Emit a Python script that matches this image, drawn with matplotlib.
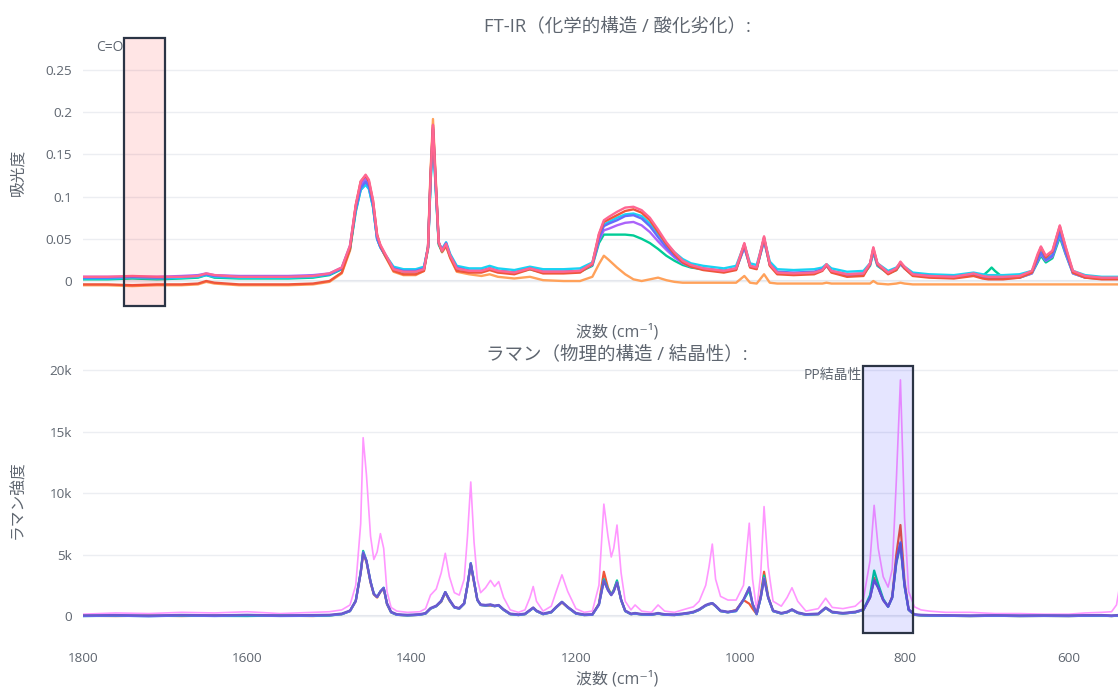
import matplotlib
matplotlib.use("Agg")
import matplotlib.pyplot as plt

plt.rcParams['font.family'] = ['Open Sans', 'Noto Sans CJK JP', 'DejaVu Sans']

# ---- FT-IR data (wavenumber, absorbance) ----
ir_x = [1800, 1770, 1740, 1710, 1680, 1660, 1650, 1640, 1610, 1580,
        1550, 1520, 1500, 1485, 1475, 1468, 1462, 1456, 1452, 1447,
        1442, 1438, 1432, 1422, 1410, 1395, 1385, 1380, 1377, 1374,
        1371, 1367, 1363, 1358, 1353, 1345, 1330, 1315, 1305, 1295,
        1275, 1256, 1240, 1215, 1195, 1180, 1172, 1166, 1160, 1150,
        1140, 1130, 1120, 1110, 1100, 1090, 1080, 1070, 1060, 1045,
        1020, 1005, 995, 988, 980, 971, 964, 955, 935, 910,
        900, 895, 889, 870, 850, 842, 838, 833, 820, 810,
        805, 800, 790, 770, 740, 716, 705, 698, 694, 690,
        680, 660, 645, 638, 634, 628, 620, 611, 604, 595,
        580, 560, 530, 500]

ir_blue = [0.004, 0.004, 0.005, 0.004, 0.005, 0.006, 0.008, 0.006, 0.005, 0.005,
           0.005, 0.006, 0.008, 0.015, 0.04, 0.085, 0.11, 0.118, 0.112, 0.09,
           0.05, 0.04, 0.03, 0.015, 0.012, 0.012, 0.015, 0.04, 0.12, 0.18,
           0.12, 0.045, 0.037, 0.045, 0.03, 0.016, 0.012, 0.012, 0.015, 0.012,
           0.01, 0.015, 0.011, 0.011, 0.012, 0.02, 0.05, 0.065, 0.068, 0.072,
           0.077, 0.078, 0.074, 0.065, 0.052, 0.04, 0.03, 0.022, 0.018, 0.015,
           0.012, 0.015, 0.042, 0.018, 0.016, 0.05, 0.02, 0.011, 0.01, 0.011,
           0.014, 0.019, 0.012, 0.008, 0.009, 0.02, 0.036, 0.02, 0.01, 0.015,
           0.021, 0.016, 0.008, 0.006, 0.005, 0.008, 0.005, 0.004, 0.004, 0.004,
           0.004, 0.005, 0.01, 0.025, 0.034, 0.025, 0.03, 0.058, 0.035, 0.01,
           0.005, 0.003, 0.003, 0.003]

ir_red = [-0.004, -0.004, -0.005, -0.004, -0.004, -0.003, 0.0, -0.002, -0.004, -0.004,
          -0.004, -0.003, 0.0, 0.01, 0.038, 0.09, 0.118, 0.125, 0.118, 0.095,
          0.055, 0.042, 0.03, 0.012, 0.008, 0.008, 0.012, 0.04, 0.125, 0.185,
          0.125, 0.045, 0.035, 0.042, 0.028, 0.012, 0.01, 0.01, 0.013, 0.01,
          0.008, 0.014, 0.009, 0.009, 0.01, 0.02, 0.055, 0.07, 0.073, 0.078,
          0.083, 0.085, 0.081, 0.072, 0.058, 0.044, 0.032, 0.022, 0.017, 0.013,
          0.01, 0.013, 0.044, 0.016, 0.014, 0.052, 0.018, 0.008, 0.007, 0.008,
          0.012, 0.019, 0.01, 0.005, 0.006, 0.02, 0.039, 0.02, 0.008, 0.013,
          0.022, 0.015, 0.006, 0.004, 0.003, 0.006, 0.003, 0.002, 0.002, 0.002,
          0.002, 0.004, 0.01, 0.03, 0.04, 0.028, 0.035, 0.065, 0.04, 0.01,
          0.004, 0.002, 0.002, 0.002]

ir_green = [0.002, 0.002, 0.003, 0.002, 0.003, 0.004, 0.007, 0.004, 0.003, 0.003,
            0.003, 0.004, 0.007, 0.014, 0.038, 0.082, 0.108, 0.115, 0.11, 0.088,
            0.05, 0.04, 0.03, 0.014, 0.011, 0.011, 0.014, 0.038, 0.115, 0.175,
            0.115, 0.043, 0.035, 0.043, 0.029, 0.015, 0.012, 0.012, 0.014, 0.012,
            0.01, 0.014, 0.01, 0.01, 0.011, 0.018, 0.045, 0.055, 0.055, 0.055,
            0.055, 0.054, 0.05, 0.045, 0.038, 0.03, 0.024, 0.019, 0.016, 0.014,
            0.012, 0.014, 0.04, 0.017, 0.015, 0.048, 0.019, 0.01, 0.009, 0.01,
            0.013, 0.018, 0.011, 0.007, 0.008, 0.018, 0.034, 0.018, 0.009, 0.013,
            0.02, 0.015, 0.007, 0.005, 0.004, 0.007, 0.006, 0.012, 0.016, 0.012,
            0.004, 0.004, 0.009, 0.022, 0.03, 0.022, 0.027, 0.052, 0.032, 0.009,
            0.004, 0.003, 0.003, 0.003]

ir_purple = [0.005, 0.005, 0.005, 0.005, 0.006, 0.007, 0.009, 0.007, 0.006, 0.006,
             0.006, 0.007, 0.009, 0.016, 0.042, 0.088, 0.114, 0.122, 0.116, 0.092,
             0.052, 0.041, 0.031, 0.015, 0.012, 0.012, 0.015, 0.04, 0.12, 0.182,
             0.122, 0.046, 0.036, 0.044, 0.03, 0.016, 0.012, 0.012, 0.015, 0.012,
             0.01, 0.015, 0.011, 0.011, 0.012, 0.019, 0.048, 0.06, 0.062, 0.066,
             0.069, 0.07, 0.066, 0.058, 0.047, 0.037, 0.028, 0.021, 0.017, 0.014,
             0.011, 0.014, 0.04, 0.017, 0.015, 0.048, 0.019, 0.01, 0.009, 0.01,
             0.013, 0.018, 0.011, 0.007, 0.008, 0.019, 0.035, 0.019, 0.009, 0.014,
             0.02, 0.015, 0.007, 0.005, 0.004, 0.007, 0.004, 0.003, 0.003, 0.003,
             0.003, 0.004, 0.009, 0.024, 0.032, 0.024, 0.029, 0.055, 0.033, 0.009,
             0.004, 0.003, 0.003, 0.003]

ir_orange = [-0.005, -0.005, -0.006, -0.005, -0.005, -0.004, -0.001, -0.003, -0.005, -0.005,
             -0.005, -0.004, -0.001, 0.009, 0.036, 0.088, 0.115, 0.122, 0.115, 0.092,
             0.053, 0.041, 0.029, 0.011, 0.007, 0.007, 0.012, 0.042, 0.13, 0.192,
             0.13, 0.046, 0.034, 0.041, 0.027, 0.011, 0.008, 0.006, 0.008, 0.005,
             0.003, 0.005, 0.001, 0.0, 0.0, 0.005, 0.02, 0.03, 0.025, 0.016,
             0.008, 0.002, 0.0, 0.002, 0.004, 0.001, -0.001, -0.002, -0.002, -0.002,
             -0.002, -0.002, 0.006, -0.002, -0.003, 0.008, -0.002, -0.003, -0.003, -0.003,
             -0.003, -0.002, -0.003, -0.003, -0.003, -0.003, 0.0, -0.003, -0.004, -0.003,
             -0.002, -0.003, -0.004, -0.004, -0.004, -0.004, -0.004, -0.004, -0.004, -0.004,
             -0.004, -0.004, -0.004, -0.004, -0.004, -0.004, -0.004, -0.004, -0.004, -0.004,
             -0.004, -0.004, -0.004, -0.004]

ir_cyan = [0.003, 0.003, 0.004, 0.003, 0.004, 0.005, 0.007, 0.005, 0.004, 0.004,
           0.004, 0.005, 0.008, 0.015, 0.04, 0.084, 0.108, 0.114, 0.109, 0.088,
           0.05, 0.04, 0.031, 0.017, 0.014, 0.014, 0.017, 0.04, 0.115, 0.175,
           0.115, 0.045, 0.038, 0.046, 0.032, 0.018, 0.015, 0.015, 0.018, 0.015,
           0.013, 0.017, 0.014, 0.014, 0.015, 0.022, 0.052, 0.067, 0.07, 0.075,
           0.079, 0.08, 0.077, 0.068, 0.056, 0.044, 0.034, 0.026, 0.021, 0.018,
           0.015, 0.018, 0.043, 0.021, 0.019, 0.05, 0.023, 0.014, 0.013, 0.014,
           0.016, 0.02, 0.015, 0.011, 0.012, 0.021, 0.036, 0.021, 0.012, 0.016,
           0.021, 0.017, 0.01, 0.008, 0.007, 0.01, 0.008, 0.007, 0.007, 0.007,
           0.007, 0.008, 0.012, 0.026, 0.034, 0.026, 0.031, 0.056, 0.036, 0.012,
           0.007, 0.005, 0.005, 0.005]

ir_pink = [0.005, 0.005, 0.006, 0.005, 0.005, 0.006, 0.009, 0.007, 0.005, 0.005,
           0.005, 0.006, 0.009, 0.016, 0.042, 0.09, 0.118, 0.126, 0.12, 0.096,
           0.054, 0.043, 0.032, 0.014, 0.011, 0.011, 0.014, 0.04, 0.122, 0.185,
           0.122, 0.046, 0.036, 0.044, 0.03, 0.015, 0.012, 0.012, 0.015, 0.012,
           0.01, 0.015, 0.011, 0.011, 0.012, 0.021, 0.056, 0.072, 0.076, 0.082,
           0.087, 0.088, 0.084, 0.075, 0.061, 0.046, 0.034, 0.024, 0.019, 0.015,
           0.012, 0.015, 0.045, 0.018, 0.016, 0.053, 0.02, 0.01, 0.009, 0.01,
           0.013, 0.02, 0.012, 0.008, 0.009, 0.021, 0.04, 0.021, 0.01, 0.015,
           0.023, 0.017, 0.008, 0.006, 0.005, 0.009, 0.006, 0.005, 0.005, 0.005,
           0.005, 0.006, 0.012, 0.032, 0.041, 0.03, 0.036, 0.066, 0.041, 0.012,
           0.006, 0.004, 0.004, 0.004]

ir_series = [(ir_orange, '#FFA15A'), (ir_green, '#00CC96'), (ir_purple, '#AB63FA'),
             (ir_cyan, '#19D3F3'), (ir_blue, '#636EFA'), (ir_red, '#EF553B'),
             (ir_pink, '#FF6692')]

# ---- Raman data (wavenumber, intensity) ----
ra_x = [1800, 1760, 1720, 1680, 1640, 1600, 1560, 1520, 1500, 1485,
        1475, 1468, 1462, 1459, 1455, 1450, 1446, 1442, 1438, 1434,
        1430, 1425, 1418, 1405, 1390, 1383, 1377, 1370, 1364, 1359,
        1354, 1348, 1342, 1336, 1332, 1328, 1324, 1320, 1316, 1310,
        1304, 1299, 1294, 1288, 1280, 1270, 1262, 1256, 1252, 1248,
        1240, 1230, 1224, 1217, 1210, 1200, 1190, 1180, 1172, 1166,
        1161, 1157, 1154, 1150, 1145, 1140, 1133, 1128, 1120, 1108,
        1100, 1092, 1080, 1065, 1057, 1050, 1042, 1038, 1034, 1030,
        1024, 1015, 1005, 996, 989, 985, 980, 975, 971, 966,
        960, 950, 943, 937, 930, 920, 905, 896, 888, 875,
        860, 850, 842, 837, 832, 826, 820, 815, 810, 805,
        800, 795, 788, 780, 770, 750, 720, 690, 660, 630,
        600, 580, 560, 548, 542, 538, 530, 515, 500]

ra_pink = [150, 250, 200, 300, 250, 350, 200, 300, 350, 500,
           900, 2500, 7500, 14500, 11500, 6500, 4600, 5200, 6700, 5500,
           2000, 700, 400, 300, 350, 600, 1700, 2200, 3500, 5100,
           3200, 1900, 1700, 3000, 6500, 10900, 6000, 3000, 1900, 2300,
           2900, 2400, 2800, 1500, 500, 300, 500, 1500, 2400, 1200,
           400, 800, 2000, 3350, 2000, 600, 300, 400, 2500, 9100,
           6500, 4800, 5500, 7400, 3500, 1200, 500, 900, 400, 300,
           900, 400, 300, 600, 750, 1200, 2500, 4000, 5850, 3000,
           1600, 1300, 1300, 2500, 7550, 3000, 500, 3500, 8900, 4000,
           1200, 800, 1500, 2300, 1200, 400, 600, 1450, 700, 600,
           800, 1400, 4500, 9000, 5500, 3200, 2350, 3800, 11000, 19200,
           8000, 2000, 750, 500, 400, 300, 300, 200, 200, 150,
           150, 250, 300, 350, 900, 2500, 800, 200, 200]

ra_blue = [0, 30, -20, 40, 0, 50, 0, 20, 50, 150,
           400, 1200, 3500, 5200, 4500, 2800, 1800, 1550, 2000, 2300,
           1000, 300, 100, 50, 100, 200, 600, 800, 1200, 1950,
           1300, 700, 600, 1000, 2500, 4300, 2800, 1300, 900, 850,
           900, 800, 850, 500, 150, 80, 150, 450, 650, 400,
           150, 300, 700, 1150, 700, 200, 80, 100, 900, 2900,
           2100, 1700, 2000, 2750, 1300, 400, 150, 200, 120, 100,
           200, 100, 80, 200, 300, 500, 850, 950, 1050, 800,
           400, 300, 400, 1300, 2350, 1000, 150, 1500, 3100, 1500,
           400, 200, 300, 500, 250, 100, 150, 650, 300, 200,
           300, 500, 1500, 2900, 2300, 1300, 750, 1500, 4500, 6000,
           2500, 500, 100, 50, 30, 20, 0, 20, 0, 10,
           0, 20, 30, 0, 20, 40, 0, 20, 0]

ra_red = [20, 0, 30, 0, 40, 20, 30, 0, 60, 150,
          400, 1200, 3500, 5100, 4400, 2700, 1750, 1500, 1950, 2250,
          950, 300, 100, 50, 100, 200, 600, 800, 1150, 1900,
          1250, 700, 600, 1000, 2500, 4200, 2700, 1300, 900, 850,
          850, 800, 850, 500, 150, 80, 150, 450, 650, 400,
          150, 300, 700, 1100, 700, 200, 80, 100, 1000, 3600,
          2300, 1750, 2100, 2800, 1300, 400, 150, 200, 120, 100,
          200, 100, 80, 200, 300, 500, 850, 950, 1000, 800,
          400, 300, 500, 1300, 1000, 600, 150, 1700, 3600, 1600,
          400, 200, 300, 500, 250, 100, 150, 650, 300, 200,
          300, 500, 1500, 3100, 2300, 1300, 750, 1600, 5000, 7400,
          2800, 500, 100, 50, 30, 20, 0, 20, 0, 10,
          0, 20, 30, 0, 20, 40, 0, 20, 0]

ra_green = [0, 20, 0, 30, 10, 0, 40, 20, 40, 150,
            400, 1250, 3600, 5300, 4500, 2800, 1800, 1550, 2000, 2300,
            1000, 300, 100, 50, 100, 200, 600, 800, 1200, 1950,
            1300, 700, 600, 1000, 2500, 4300, 2800, 1300, 900, 850,
            900, 800, 850, 500, 150, 80, 150, 450, 650, 400,
            150, 300, 700, 1150, 700, 200, 80, 100, 950, 3000,
            2200, 1750, 2100, 2900, 1300, 400, 150, 200, 120, 100,
            200, 100, 80, 200, 300, 500, 850, 950, 1050, 800,
            400, 300, 400, 1300, 2100, 950, 150, 1500, 3300, 1500,
            400, 200, 300, 500, 250, 100, 150, 650, 300, 200,
            300, 500, 1700, 3700, 2600, 1400, 750, 1500, 4300, 5800,
            2400, 500, 100, 50, 30, 20, 0, 20, 0, 10,
            0, 20, 30, 0, 20, 40, 0, 20, 0]

ra_purple = [50, 80, 40, 90, 60, 100, 50, 80, 100, 200,
             450, 1250, 3500, 5100, 4500, 2800, 1800, 1550, 2000, 2250,
             1050, 350, 150, 100, 150, 250, 650, 850, 1250, 1950,
             1350, 750, 650, 1050, 2500, 4250, 2800, 1350, 950, 900,
             950, 850, 900, 550, 200, 130, 200, 500, 700, 450,
             200, 350, 750, 1150, 750, 250, 130, 150, 950, 2850,
             2100, 1700, 2000, 2700, 1350, 450, 200, 250, 170, 150,
             250, 150, 130, 250, 350, 550, 900, 1000, 1050, 850,
             450, 350, 450, 1350, 2300, 1000, 200, 1500, 3000, 1500,
             450, 250, 350, 550, 300, 150, 200, 700, 350, 250,
             350, 550, 1500, 2900, 2300, 1300, 800, 1500, 4400, 5900,
             2500, 550, 150, 100, 80, 70, 50, 70, 50, 60,
             50, 70, 80, 50, 70, 90, 50, 70, 50]

ra_series = [(ra_red, '#EF553B'), (ra_green, '#00CC96'), (ra_blue, '#636EFA'),
             (ra_purple, '#6a5acd')]

txt = '#5f6670'
grid = '#eceef2'

fig = plt.figure(figsize=(11.18, 6.9), dpi=100)
W, H = 1118.0, 690.0
ax1 = fig.add_axes([83 / W, 1 - 306 / H, 1068 / W, 268 / H])
ax2 = fig.add_axes([83 / W, 1 - 633 / H, 1068 / W, 267 / H])

for ax in (ax1, ax2):
    for s in ax.spines.values():
        s.set_visible(False)
    ax.set_xlim(1800, 500)
    ax.tick_params(length=0, colors=txt, labelsize=9.7, pad=8)
    ax.grid(axis='y', color=grid, lw=1)
    ax.set_axisbelow(True)

# top: FT-IR
for ys, c in ir_series:
    ax1.plot(ir_x, ys, color=c, lw=1.7)
ax1.axhline(0, color='#e3e6ec', lw=1.5, zorder=0)
ax1.set_ylim(-0.0296, 0.288)
ax1.set_yticks([0, 0.05, 0.1, 0.15, 0.2, 0.25])
ax1.set_yticklabels(['0', '0.05', '0.1', '0.15', '0.2', '0.25'])
ax1.set_xticks([])
ax1.set_ylabel('吸光度', color=txt, fontsize=11.3)
ax1.yaxis.set_label_coords(-0.053, 0.5)
ax1.set_xlabel('波数 (cm⁻¹)', color=txt, fontsize=11.5)
ax1.xaxis.set_label_coords(0.5, -0.068)
ax1.set_title('FT-IR（化学的構造 / 酸化劣化）:', color=txt, fontsize=13.3, pad=5)
ax1.axvspan(1750, 1700, ymin=0, ymax=1, facecolor=(1, 0, 0, 0.1),
            edgecolor='#2b3445', lw=1.6, zorder=5, clip_on=False)
ax1.text(1751, 0.2855, 'C=O', ha='right', va='top', color=txt, fontsize=10)

# bottom: Raman
ax2.plot(ra_x, ra_pink, color='#FF97FF', lw=1.2)
for ys, c in ra_series:
    ax2.plot(ra_x, ys, color=c, lw=1.6)
ax2.axhline(0, color='#e3e6ec', lw=1.5, zorder=0)
ax2.set_ylim(-1380, 20330)
ax2.set_yticks([0, 5000, 10000, 15000, 20000])
ax2.set_yticklabels(['0', '5k', '10k', '15k', '20k'])
ax2.set_xticks([1800, 1600, 1400, 1200, 1000, 800, 600])
ax2.set_xticklabels(['1800', '1600', '1400', '1200', '1000', '800', '600'])
ax2.tick_params(axis='x', pad=14)
ax2.set_ylabel('ラマン強度', color=txt, fontsize=11.3)
ax2.yaxis.set_label_coords(-0.053, 0.5)
ax2.set_xlabel('波数 (cm⁻¹)', color=txt, fontsize=11.5)
ax2.xaxis.set_label_coords(0.5, -0.143)
ax2.set_title('ラマン（物理的構造 / 結晶性）:', color=txt, fontsize=13.3, pad=5)
ax2.axvspan(850, 790, ymin=0, ymax=1, facecolor=(0, 0, 1, 0.1),
            edgecolor='#2b3445', lw=1.6, zorder=5, clip_on=False)
ax2.text(852, 20150, 'PP結晶性', ha='right', va='top', color=txt, fontsize=10)

fig.savefig('out.png', dpi=100)
